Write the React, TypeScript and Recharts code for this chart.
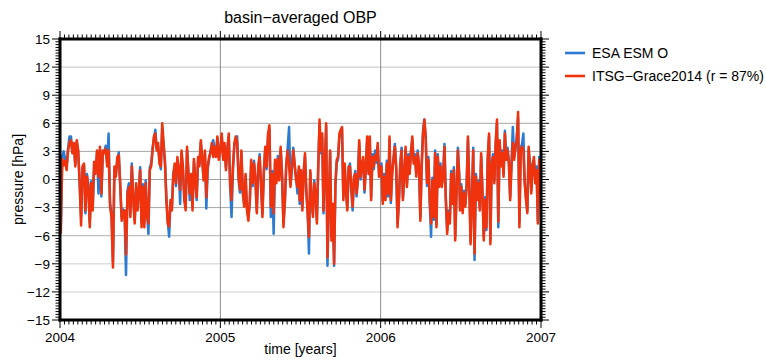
import { LineChart, Line, XAxis, YAxis, ReferenceLine, Legend } from 'recharts'

const FONT = '"Liberation Sans", Arial, Helvetica, sans-serif'
const BLUE = '#2b7bd3'
const RED = '#f0330d'

// basin-averaged ocean bottom pressure [hPa], half-year blocks, ~3-day steps
const esa2004a = [
  -5.0, 2.5, 3.0, 2.2, 1.2, 3.3, 4.6, 4.6, 3.0, 3.7,
  1.6, 4.0, 3.0, -0.2, -4.0, 1.2, 1.5, -3.6, 0.6, -0.5,
  -4.6, -0.2, -3.0, 1.6, 0.9, 2.9, -1.5, 3.2, -1.8, 2.8,
  3.0, 3.6, 1.8, 4.9, -2.5, -3.6, -8.8, 1.0, 0.6, 2.0,
  2.9, -0.8, -4.0, -3.2, -3.6, -10.2, -1.2, -0.4, -3.6, 1.7,
  -1.8, -4.4, -0.8, -3.0,
]
const itsg2004a = [
  -5.8, 2.2, 1.5, 2.0, 1.0, 3.1, 3.9, 4.2, 2.8, 3.9,
  1.4, 4.2, 3.1, -0.4, -4.9, 1.4, 1.7, -3.3, 0.3, -0.8,
  -5.1, -0.4, -3.3, 1.9, 0.6, 3.1, 0.3, 3.5, -1.5, 3.1,
  2.8, 3.3, 1.4, 3.1, -2.9, -4.0, -9.4, 1.4, 0.3, 2.4,
  2.6, -0.4, -4.4, -3.6, -3.3, -8.0, -1.5, -0.8, -4.0, 1.4,
  -2.2, -4.7, -0.4, -3.3,
]
const esa2004b = [
  1.3, -4.6, -0.5, -4.6, -0.1, -3.6, -5.8, 1.3, 1.7, 3.3,
  4.4, 5.3, 3.3, 3.6, 2.0, 1.1, 5.4, 3.6, 2.0, -1.8,
  -4.3, -6.1, -2.5, -3.0, 0.6, 1.4, -0.7, 2.1, 1.3, -2.6,
  2.8, 1.1, -1.8, -3.0, 3.2, 0.9, -2.2, 0.3, -3.0, 1.9,
  0.2, -2.2, 2.1, 1.7, 3.9, 2.1, 0.2, 2.8, -3.1, 1.1,
  2.1, 3.1, 3.6, 4.2, 3.2, 2.7, 4.4, 2.4,
]
const itsg2004b = [
  1.0, -5.1, -0.8, -5.1, -0.4, -4.0, -4.7, 1.0, 1.4, 3.1,
  4.6, 4.9, 3.1, 3.9, 1.7, 1.4, 6.0, 3.9, 1.7, -2.2,
  -4.7, -5.0, -2.2, -3.3, 0.3, 1.7, -0.4, 2.4, 1.0, -1.1,
  3.1, 1.4, -2.2, -3.3, 3.5, 0.6, -1.5, 0.6, -3.3, 2.2,
  -0.1, -1.9, 2.4, 1.4, 4.2, 2.4, -0.1, 3.1, -1.9, 1.4,
  2.4, 2.8, 3.9, 2.4, 3.5, 2.4, 4.6, 2.1,
]
const esa2005a = [
  3.4, 4.6, 2.4, 3.6, 1.3, 3.4, 4.6, -0.8, -4.0, 1.1,
  3.6, 4.3, 4.6, 0.0, -1.4, 2.8, -1.5, -2.6, 0.3, -3.0,
  -4.0, -2.5, 1.8, -0.7, 2.0, 0.2, -3.3, 1.1, 2.7, -0.8,
  -3.6, 0.9, 3.2, 1.1, 4.6, 5.4, -4.0, 0.9, -5.8, 1.8,
  -0.1, 2.5, 0.2, 3.2, 0.6, -4.6, -2.5, 1.4, 3.4, 5.6,
  -0.5, 1.1, 3.4, 1.4, 0.2, -1.5, 1.1,
]
const itsg2005a = [
  3.1, 4.9, 2.1, 3.9, 1.0, 3.1, 4.9, -0.4, -2.2, 1.4,
  3.9, 4.6, 3.9, 0.3, -1.1, 3.1, -1.1, -2.9, 0.6, -3.3,
  -4.4, -2.2, 2.1, -0.4, 1.7, -0.1, -3.6, 1.4, 2.4, -0.4,
  -4.0, 0.6, 3.5, 1.4, 4.9, 5.8, -2.9, 0.6, -3.6, 2.1,
  -0.4, 2.2, -0.1, 3.5, 0.3, -5.1, -2.2, 1.7, 3.1, 1.4,
  -0.8, 1.4, 3.1, 1.7, -0.1, -0.8, 1.4,
]
const esa2005b = [
  -2.6, 0.7, -3.0, 0.9, 2.5, -1.4, -3.3, -7.9, 0.7, -2.5,
  -3.6, -0.1, -1.8, -4.3, 1.1, 5.9, 2.8, 4.5, -3.6, 1.1,
  5.6, -9.2, -2.5, 2.8, -6.1, -2.9, -9.2, -0.7, 1.8, 2.1,
  4.5, 5.0, 5.3, -1.9, 1.4, -1.4, -3.0, 1.1, 1.7, -1.1,
  -3.3, 0.0, 0.9, -1.8, 0.2, 3.9, 0.0, 1.7, 2.1, -1.4,
  1.1, 4.3, 0.9, 4.3, -1.9, 2.7, 1.1, 3.1, 1.8, 3.6,
  0.6,
]
const itsg2005b = [
  -2.2, 1.0, -3.3, 0.6, 2.8, -1.1, -3.6, -6.1, 1.0, -2.2,
  -4.0, -0.4, -1.5, -4.7, 1.4, 6.4, 3.1, 4.9, -3.3, 1.4,
  6.0, -8.3, -2.2, 3.1, -6.5, -2.6, -9.0, -0.4, 2.1, 2.4,
  4.9, 5.3, 5.6, -2.2, 1.7, -1.1, -3.3, 1.4, 1.4, -0.8,
  -2.9, 0.3, 0.6, -1.5, -0.1, 4.2, 0.3, 1.4, 2.4, -1.1,
  1.4, 4.6, 0.6, 4.6, -2.2, 2.4, 1.4, 2.6, 2.1, 3.9,
  0.3,
]
const esa2006a = [
  1.7, -2.3, 0.6, -1.9, 2.0, -1.8, 4.3, -2.5, 0.9, 2.4,
  3.8, 1.1, -4.7, -2.5, 1.7, 3.4, -1.9, 0.6, 3.2, -0.5,
  2.7, 0.9, 3.1, 4.3, 2.0, 2.7, 0.6, 3.1, 1.4, -4.0,
  1.7, 5.2, 6.4, 4.3, -0.7, 2.4, -2.5, -6.1, 0.2, -4.3,
  3.1, -4.8, 2.7, -0.5, 1.7, -0.5, 0.6, 3.8, -1.9, -5.4,
  -3.3, -4.3, 0.9, -2.3, 1.3, -6.1, -1.2, 3.4, 0.6,
]
const itsg2006a = [
  1.4, -2.6, 0.3, -2.2, 1.7, -1.5, 4.6, -2.2, 0.6, 2.1,
  3.5, 1.4, -5.1, -2.2, 1.4, 3.1, -2.2, 0.3, 3.5, -0.8,
  2.4, 0.6, 2.8, 4.6, 1.7, 2.4, 0.3, 2.8, 1.7, -4.4,
  1.4, 4.9, 6.4, 4.6, -0.4, 2.1, -2.2, -4.7, -0.1, -4.0,
  2.8, -5.1, 2.4, -0.8, 1.4, -0.8, 0.3, 3.5, -2.2, -5.8,
  -3.6, -4.7, 0.6, -2.6, 1.0, -6.5, -1.5, 3.1, 0.3,
]
const esa2006b = [
  -3.0, -0.5, -3.3, -1.2, -2.6, -0.5, 4.3, -0.5, -6.5, -1.9,
  3.4, -8.6, 0.6, -1.9, -0.1, -3.0, 2.5, -1.2, -6.1, -1.9,
  -5.4, 2.1, 4.6, -6.5, 1.7, 2.7, -0.1, 3.6, 6.0, -5.1,
  3.9, 1.7, 3.1, 0.6, 5.2, 2.4, 3.4, 2.0, -1.9, 1.7,
  5.6, 2.4, 3.2, 4.5, 6.6, -4.6, 3.4, 3.8, 4.9, -0.1,
  -1.9, -3.3, 3.2, 1.7, -1.2, 1.7, 2.1, -0.1, 1.4, -4.4,
  2.4, -1.2,
]
const itsg2006b = [
  -3.3, -0.8, -3.6, -1.5, -2.9, -0.8, 4.6, -0.8, -6.9, -2.2,
  3.1, -7.9, 0.3, -2.2, -0.4, -3.3, 2.8, -1.5, -6.5, -2.2,
  -5.1, 2.4, 4.9, -6.9, 1.4, 2.4, -0.4, 3.9, 6.4, -4.5,
  4.2, 1.4, 2.8, 0.3, 4.9, 2.1, 3.1, 1.7, -2.2, 1.4,
  3.9, 2.1, 3.5, 4.2, 7.2, -5.1, 3.1, 3.5, 3.1, -0.4,
  -2.2, -3.6, 3.5, 1.4, -1.5, 1.4, 2.4, -0.4, 1.0, -4.7,
  2.1, -1.5,
]

const blocks = [
  { from: 2004.005, to: 2004.484, esa: esa2004a, itsg: itsg2004a },
  { from: 2004.5, to: 2004.99, esa: esa2004b, itsg: itsg2004b },
  { from: 2005.0, to: 2005.49, esa: esa2005a, itsg: itsg2005a },
  { from: 2005.495, to: 2005.99, esa: esa2005b, itsg: itsg2005b },
  { from: 2006.005, to: 2006.49, esa: esa2006a, itsg: itsg2006a },
  { from: 2006.495, to: 2006.997, esa: esa2006b, itsg: itsg2006b },
]

const rows = blocks.flatMap(b =>
  b.esa.map((v, i) => ({
    t: b.from + ((b.to - b.from) * i) / (b.esa.length - 1),
    esa: v,
    itsg: b.itsg[i],
  })),
)

const years = [2004, 2005, 2006, 2007]
const yearTicks = Array.from({ length: 109 }, (_, i) => 2004 + i / 36)
const yTicks = Array.from({ length: 101 }, (_, i) => (-150 + 3 * i) / 10)

// horizontal grid every 3 hPa, some drawn lighter
const hGrid = [
  { v: 12, c: '#cfcfcf', w: 1.2 },
  { v: 9, c: '#b4b4b4', w: 1 },
  { v: 6, c: '#a6a6a6', w: 1 },
  { v: 3, c: '#a6a6a6', w: 1 },
  { v: 0, c: '#a6a6a6', w: 1 },
  { v: -3, c: '#a6a6a6', w: 1 },
  { v: -6, c: '#b0b0b0', w: 1 },
  { v: -9, c: '#dedede', w: 1.5 },
  { v: -12, c: '#dedede', w: 1.5 },
]

const fmtY = (v: number) => (v < 0 ? `\u2212${-v}` : `${v}`)
const isMajorY = (v: number) => Math.abs(v % 3) < 1e-6

function LeftTick({ x, y, payload }: any) {
  const major = isMajorY(payload.value)
  return (
    <g>
      <line x1={x} x2={x - (major ? 8 : 4.5)} y1={y} y2={y} stroke="#000" />
      {major && (
        <text x={x - 10} y={y} dy="0.36em" textAnchor="end" fontSize={13.5} fontFamily={FONT} fill="#000">
          {fmtY(payload.value)}
        </text>
      )}
    </g>
  )
}

function RightTick({ x, y, payload }: any) {
  const major = isMajorY(payload.value)
  return <line x1={x} x2={x + (major ? 8 : 4.5)} y1={y} y2={y} stroke="#000" />
}

function TopTick({ x, y, payload }: any) {
  const major = Number.isInteger(payload.value)
  return <line x1={x} x2={x} y1={y} y2={y - (major ? 8 : 4.5)} stroke="#000" />
}

function BottomTick({ x, y, payload }: any) {
  const major = Number.isInteger(payload.value)
  return (
    <g>
      <line x1={x} x2={x} y1={y} y2={y + (major ? 8 : 4.5)} stroke="#000" />
      {major && (
        <text x={x} y={y + 17} dy="0.36em" textAnchor="middle" fontSize={13.5} fontFamily={FONT} fill="#000">
          {payload.value}
        </text>
      )}
    </g>
  )
}

function LegendBox({ payload }: any) {
  return (
    <div style={{ fontFamily: FONT, fontSize: 14, color: '#000' }}>
      {(payload ?? []).map((p: any) => (
        <div key={p.value} style={{ display: 'flex', alignItems: 'center', height: 23 }}>
          <svg width={20} height={4} style={{ display: 'block', flexShrink: 0 }}>
            <line x1={0} x2={20} y1={2} y2={2} stroke={p.color} strokeWidth={2.6} />
          </svg>
          <span style={{ marginLeft: 7, whiteSpace: 'nowrap' }}>{p.value}</span>
        </div>
      ))}
    </div>
  )
}

const frame = { stroke: '#000', strokeWidth: 3, strokeLinecap: 'square' as const }

export default function App() {
  return (
    <div style={{ width: 766, height: 361, position: 'relative' }}>
      <style>{'body { margin: 0; }'}</style>
      <LineChart width={766} height={361} data={rows} margin={{ top: 0, right: 0, bottom: 0, left: 0 }}>
        <XAxis
          xAxisId="top"
          orientation="top"
          dataKey="t"
          type="number"
          domain={[2004, 2007]}
          allowDataOverflow
          ticks={yearTicks}
          interval={0}
          height={39}
          tickSize={0}
          tickMargin={0}
          tickLine={false}
          axisLine={frame}
          tick={<TopTick />}
          label={{
            content: ({ viewBox }: any) => (
              <text x={viewBox.x + viewBox.width / 2} y={22.5} textAnchor="middle" fontSize={16} fontFamily={FONT} fill="#000">
                {'basin\u2212averaged OBP'}
              </text>
            ),
          }}
        />
        <XAxis
          xAxisId="bottom"
          dataKey="t"
          type="number"
          domain={[2004, 2007]}
          allowDataOverflow
          ticks={yearTicks}
          interval={0}
          height={41}
          tickSize={0}
          tickMargin={0}
          tickLine={false}
          axisLine={frame}
          tick={<BottomTick />}
          label={{
            content: ({ viewBox }: any) => (
              <text x={viewBox.x + viewBox.width / 2} y={354} textAnchor="middle" fontSize={14} fontFamily={FONT} fill="#000">
                time [years]
              </text>
            ),
          }}
        />
        <YAxis
          yAxisId="left"
          type="number"
          domain={[-15, 15]}
          allowDataOverflow
          ticks={yTicks}
          interval={0}
          width={60}
          tickSize={0}
          tickMargin={0}
          tickLine={false}
          axisLine={frame}
          tick={<LeftTick />}
          label={{
            content: ({ viewBox }: any) => (
              <text
                x={23}
                y={viewBox.y + viewBox.height / 2}
                transform={`rotate(-90 23 ${viewBox.y + viewBox.height / 2})`}
                textAnchor="middle"
                fontSize={14}
                fontFamily={FONT}
                fill="#000"
              >
                pressure [hPa]
              </text>
            ),
          }}
        />
        <YAxis
          yAxisId="right"
          orientation="right"
          type="number"
          domain={[-15, 15]}
          allowDataOverflow
          ticks={yTicks}
          interval={0}
          width={225}
          tickSize={0}
          tickMargin={0}
          tickLine={false}
          axisLine={frame}
          tick={<RightTick />}
        />
        {hGrid.map(g => (
          <ReferenceLine key={g.v} xAxisId="bottom" yAxisId="left" y={g.v} stroke={g.c} strokeWidth={g.w} />
        ))}
        {years.slice(1, 3).map(yr => (
          <ReferenceLine key={yr} xAxisId="bottom" yAxisId="left" x={yr} stroke="#8a8a8a" strokeWidth={1} />
        ))}
        <Line
          xAxisId="bottom"
          yAxisId="left"
          dataKey="esa"
          name="ESA ESM O"
          type="linear"
          stroke={BLUE}
          strokeWidth={2.5}
          strokeLinejoin="round"
          dot={false}
          isAnimationActive={false}
        />
        <Line
          xAxisId="bottom"
          yAxisId="left"
          dataKey="itsg"
          name={'ITSG\u2212Grace2014 (r = 87%)'}
          type="linear"
          stroke={RED}
          strokeWidth={2.5}
          strokeLinejoin="round"
          dot={false}
          isAnimationActive={false}
        />
        <Legend
          layout="vertical"
          align="center"
          verticalAlign="middle"
          wrapperStyle={{ top: 41.5, left: 565, width: 200, height: 46 }}
          content={<LegendBox />}
        />
      </LineChart>
    </div>
  )
}
